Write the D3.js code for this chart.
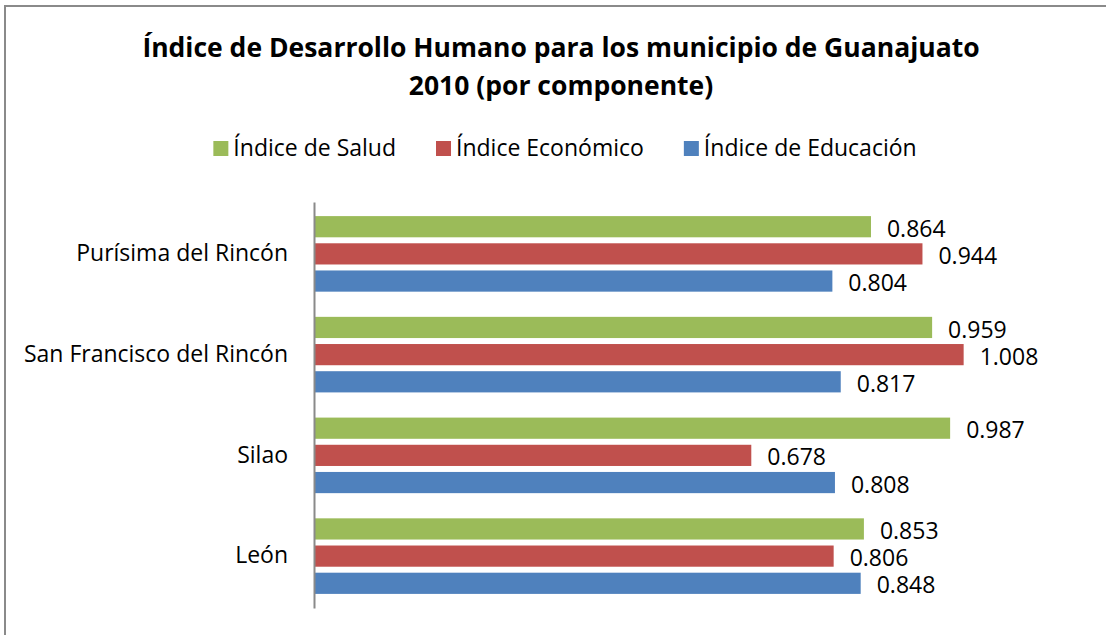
<!DOCTYPE html>
<html>
<head>
<meta charset="utf-8">
<script src="https://cdn.jsdelivr.net/npm/d3@7"></script>
<style>
  body { margin: 0; background: #fff; }
  svg text { font-family: "Open Sans", "Noto Sans", sans-serif; fill: #000; }
</style>
</head>
<body>
<div class="chart"></div>
<script>
const municipios = ["Purísima del Rincón", "San Francisco del Rincón", "Silao", "León"];
const series = ["Índice de Salud", "Índice Económico", "Índice de Educación"];
const colors = ["#9bbb59", "#c0504d", "#4f81bd"];
const salud = [0.864, 0.959, 0.987, 0.853];
const economico = [0.944, 1.008, 0.678, 0.806];
const educacion = [0.804, 0.817, 0.808, 0.848];
const titleLines = ["Índice de Desarrollo Humano para los municipio de Guanajuato", "2010 (por componente)"];

const values = [salud, economico, educacion];

const W = 1106, H = 635;
const svg = d3.select(".chart").append("svg")
  .attr("width", W).attr("height", H);

// chart frame (right and bottom edges fall outside the picture)
svg.append("rect")
  .attr("x", 5).attr("y", 6)
  .attr("width", W + 20).attr("height", H + 20)
  .attr("fill", "#fff").attr("stroke", "#8a8a8a").attr("stroke-width", 2);

// title
svg.append("g").selectAll("text")
  .data(titleLines)
  .enter().append("text")
  .attr("x", 561)
  .attr("y", (d, i) => 57 + i * 38)
  .attr("text-anchor", "middle")
  .style("font-size", "26.5px")
  .style("font-weight", "bold")
  .text(d => d);

// legend
const legend = svg.append("g");
let lx = 0;
series.forEach((s, i) => {
  const item = legend.append("g").attr("transform", "translate(" + lx + ",0)");
  item.append("rect").attr("x", 0).attr("y", -7).attr("width", 15).attr("height", 15).attr("fill", colors[i]);
  const t = item.append("text").attr("x", 20).attr("y", 0).attr("dy", "0.35em")
    .style("font-size", "23px").text(s);
  lx += 20 + t.node().getComputedTextLength() + 40;
});
const legendW = lx - 40;
legend.attr("transform", "translate(" + (565 - legendW / 2) + ",148)");

// scales
const y0 = d3.scaleBand().domain(municipios).range([202, 608]).paddingInner(0.25).paddingOuter(0.14);
const y1 = d3.scaleBand().domain(d3.range(3)).range([0, y0.bandwidth()]).paddingInner(0.22);
const x = d3.scaleLinear().domain([0, 1.2]).range([315, 315 + 1.2 * 643.5]);

const groups = svg.append("g").selectAll("g")
  .data(municipios)
  .enter().append("g")
  .attr("transform", d => "translate(0," + y0(d) + ")");

groups.selectAll("rect")
  .data((d, i) => values.map((v, k) => ({ k: k, v: v[i] })))
  .enter().append("rect")
  .attr("x", x(0))
  .attr("y", d => y1(d.k))
  .attr("width", d => x(d.v) - x(0))
  .attr("height", y1.bandwidth())
  .attr("fill", d => colors[d.k]);

groups.selectAll("text.val")
  .data((d, i) => values.map((v, k) => ({ k: k, v: v[i] })))
  .enter().append("text")
  .attr("class", "val")
  .attr("x", d => x(d.v) + 16)
  .attr("y", d => y1(d.k) + y1.bandwidth() / 2 + 2)
  .attr("dy", "0.35em")
  .style("font-size", "23px")
  .text(d => d3.format(".3f")(d.v));

// category axis
const yAxis = d3.axisLeft(y0).tickSize(0).tickPadding(26);
const ax = svg.append("g").attr("transform", "translate(314,0)").call(yAxis);
ax.select(".domain").attr("stroke", "#8a8a8a").attr("stroke-width", 2);
ax.selectAll("text").style("font-size", "23px").attr("fill", "#000");
</script>
</body>
</html>
